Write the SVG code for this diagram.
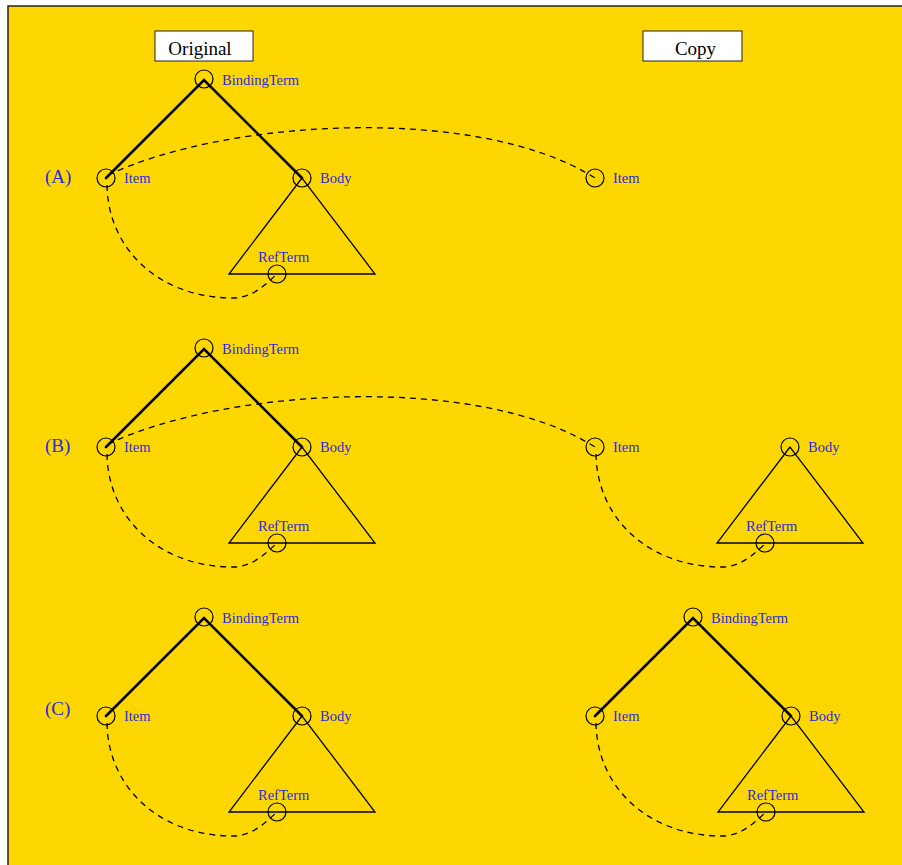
<svg xmlns="http://www.w3.org/2000/svg" width="902" height="865" viewBox="0 0 902 865">
  <style>
    .node { fill: none; stroke: #000; stroke-width: 1.2; }
    .lbl { font-family: "Liberation Serif", "Times New Roman", serif; font-size: 14.5px; fill: #2a2ae0; }
    .row { font-family: "Liberation Serif", "Times New Roman", serif; font-size: 19px; fill: #2a2ae0; }
    .head { font-family: "Liberation Serif", "Times New Roman", serif; font-size: 19px; fill: #000; }
    .edge { fill: none; stroke: #000; stroke-width: 2.6; stroke-linecap: round; }
    .tri { fill: none; stroke: #000; stroke-width: 1.3; stroke-linejoin: miter; }
    .ref { fill: none; stroke: #000; stroke-width: 1.3; stroke-dasharray: 6 5; }
  </style>
  <defs>
    <!-- subtree: Body with its RefTerm triangle, anchored at the Body node -->
    <g id="body-sub">
      <path class="tri" d="M0,0 L-73,96 L73,96 Z"/>
      <circle class="node" cx="0" cy="0" r="9"/>
      <text class="lbl" x="18" y="5">Body</text>
      <circle class="node" cx="-25" cy="96" r="9"/>
      <text class="lbl" x="-44" y="84">RefTerm</text>
    </g>
    <!-- full tree: BindingTerm with Item and Body children, anchored at Item -->
    <g id="full-tree">
      <path class="edge" d="M0,0 L98,-98 L196,0"/>
      <circle class="node" cx="98" cy="-99" r="9"/>
      <text class="lbl" x="116" y="-93">BindingTerm</text>
      <circle class="node" cx="0" cy="0" r="9"/>
      <text class="lbl" x="18" y="5">Item</text>
      <use href="#body-sub" x="196" y="0"/>
    </g>
  </defs>

  <!-- canvas frame -->
  <rect x="8" y="6" width="900" height="865" fill="#FFD700"/>
  <path d="M8,865 L8,6 L902,6" fill="none" stroke="#222" stroke-width="1.5"/>

  <!-- column headers -->
  <g id="hdr-original">
    <rect x="155" y="31" width="98" height="30" fill="#fff" stroke="#222" stroke-width="1"/>
    <text class="head" x="200" y="55" text-anchor="middle">Original</text>
  </g>
  <g id="hdr-copy">
    <rect x="643" y="31" width="99" height="30" fill="#fff" stroke="#222" stroke-width="1"/>
    <text class="head" x="695.5" y="55" text-anchor="middle">Copy</text>
  </g>

  <!-- row labels -->
  <text class="row" x="45" y="183">(A)</text>
  <text class="row" x="45" y="452">(B)</text>
  <text class="row" x="45" y="715">(C)</text>

  <!-- nodes -->
  <g id="a-original"><use href="#full-tree" x="106" y="178"/></g>
  <g id="a-copy-item">
    <circle class="node" cx="595" cy="178" r="9"/>
    <text class="lbl" x="613" y="183">Item</text>
  </g>

  <g id="b-original"><use href="#full-tree" x="106" y="447"/></g>
  <g id="b-copy-item">
    <circle class="node" cx="595" cy="447" r="9"/>
    <text class="lbl" x="613" y="452">Item</text>
  </g>
  <g id="b-copy-body"><use href="#body-sub" x="790" y="447"/></g>

  <g id="c-original"><use href="#full-tree" x="106" y="716"/></g>
  <g id="c-copy"><use href="#full-tree" x="595" y="716"/></g>

  <!-- connectors: dashed references -->
  <g id="connectors">
    <!-- row A -->
    <path class="ref" d="M108,175 C230,118 480,105 595,178"/>
    <path class="ref" d="M107,185 C108,250 160,298 233,298 C252,298 265,285 277,274"/>
    <!-- row B -->
    <path class="ref" d="M108,444 C230,387 480,374 595,447"/>
    <path class="ref" d="M107,454 C108,519 160,567 233,567 C252,567 265,554 277,543"/>
    <path class="ref" d="M596,454 C597,519 649,567 722,567 C741,567 754,554 766,543"/>
    <!-- row C -->
    <path class="ref" d="M107,723 C108,788 160,836 233,836 C252,836 265,823 277,812"/>
    <path class="ref" d="M596,723 C597,788 649,836 722,836 C741,836 754,823 766,812"/>
  </g>
</svg>
